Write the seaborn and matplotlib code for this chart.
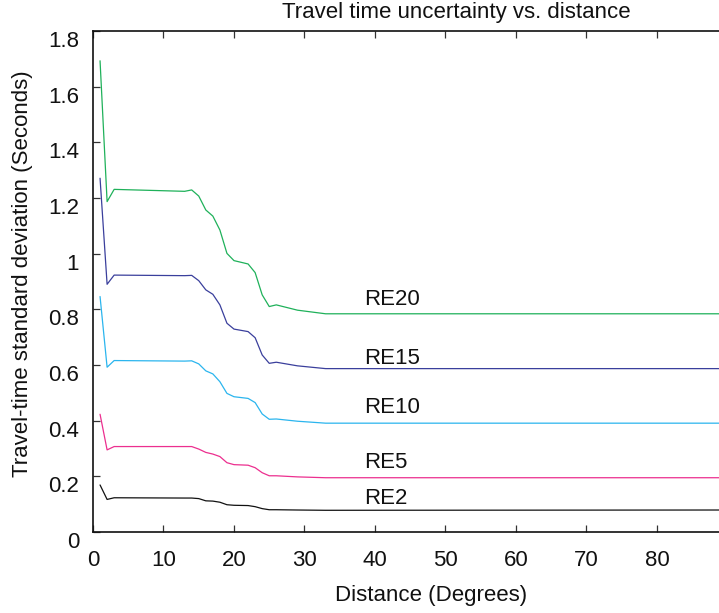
import pandas as pd
import matplotlib
matplotlib.use("Agg")
import matplotlib.pyplot as plt
import matplotlib.transforms as mtransforms
import seaborn as sns

# data (distance knots in degrees, std dev in seconds)
distance = [1, 2, 3, 13, 14, 15, 16, 17, 18, 19, 20, 22, 23, 24, 25, 26, 29, 33, 89]
re20 = [1.693, 1.187, 1.231, 1.224, 1.229, 1.207, 1.157, 1.135, 1.085, 1.001,
        0.975, 0.963, 0.932, 0.852, 0.810, 0.816, 0.797, 0.784, 0.784]
re15 = [1.271, 0.890, 0.923, 0.921, 0.922, 0.903, 0.870, 0.854, 0.816, 0.750,
        0.729, 0.720, 0.698, 0.636, 0.606, 0.610, 0.597, 0.587, 0.587]
re10 = [0.846, 0.592, 0.616, 0.614, 0.615, 0.604, 0.579, 0.568, 0.540, 0.498,
        0.486, 0.480, 0.465, 0.424, 0.405, 0.406, 0.398, 0.391, 0.391]
re5 = [0.423, 0.295, 0.307, 0.307, 0.307, 0.298, 0.286, 0.280, 0.271, 0.249,
       0.242, 0.240, 0.231, 0.213, 0.202, 0.202, 0.198, 0.195, 0.195]
re2 = [0.169, 0.117, 0.123, 0.122, 0.122, 0.120, 0.112, 0.111, 0.107, 0.098,
       0.096, 0.095, 0.091, 0.084, 0.080, 0.080, 0.079, 0.078, 0.079]

models = ["RE20", "RE15", "RE10", "RE5", "RE2"]
series = [re20, re15, re10, re5, re2]
colors = ["#1fb15a", "#3a3f9c", "#2bb5ee", "#ec2f8f", "#111111"]
label_y = [0.834, 0.622, 0.447, 0.248, 0.122]
label_x = 38.5

xticks = [0, 10, 20, 30, 40, 50, 60, 70, 80]
yticks = [0, 0.2, 0.4, 0.6, 0.8, 1.0, 1.2, 1.4, 1.6, 1.8]
ytick_labels = ["0", "0.2", "0.4", "0.6", "0.8", "1", "1.2", "1.4", "1.6", "1.8"]

rows = []
for name, vals in zip(models, series):
    for d, v in zip(distance, vals):
        rows.append({"distance": d, "std": v, "model": name})
df = pd.DataFrame(rows)

sns.set_theme(style="ticks")
plt.rcParams["font.family"] = ["Liberation Sans", "DejaVu Sans"]

fig = plt.figure(figsize=(7.19, 6.13), dpi=100)
ax = fig.add_axes([93 / 719, 81 / 613, 626 / 719, 501 / 613])

sns.lineplot(data=df, x="distance", y="std", hue="model", hue_order=models,
             palette=colors, linewidth=0.9, legend=False, ax=ax, sort=True)

for name, y, c in zip(models, label_y, colors):
    ax.text(label_x, y, name, fontsize=16, va="center", ha="left", color="#111111")

ax.set_xlim(0, 88.8)
ax.set_ylim(0, 1.8)
ax.set_xticks(xticks)
ax.set_yticks(yticks)
ax.set_yticklabels(ytick_labels)

ax.spines["right"].set_visible(False)
for s in ["left", "top", "bottom"]:
    ax.spines[s].set_linewidth(1.2)
    ax.spines[s].set_color("#111111")
ax.tick_params(axis="both", direction="in", length=5, width=0.9, color="#333333",
               labelsize=16, labelcolor="#111111")
ax.tick_params(axis="x", top=True, pad=13)
ax.tick_params(axis="y", right=False, pad=10)

# y tick labels sit just below their tick in the reference
offset = mtransforms.ScaledTranslation(0, -0.08, fig.dpi_scale_trans)
for t in ax.yaxis.get_major_ticks():
    t.label1.set_transform(t.label1.get_transform() + offset)

ax.set_xlabel("Distance (Degrees)", fontsize=16, color="#111111")
ax.xaxis.set_label_coords(0.54, -0.126)
ax.xaxis.label.set_va("center")
ax.set_ylabel("Travel-time standard deviation (Seconds)", fontsize=16, color="#111111")
ax.yaxis.set_label_coords(-0.112, 0.515)
ax.yaxis.label.set_va("center")
ax.set_title("Travel time uncertainty vs. distance", fontsize=16, color="#111111",
             x=0.58, y=1.036, va="center", pad=0)

fig.savefig("out.png", dpi=100)
